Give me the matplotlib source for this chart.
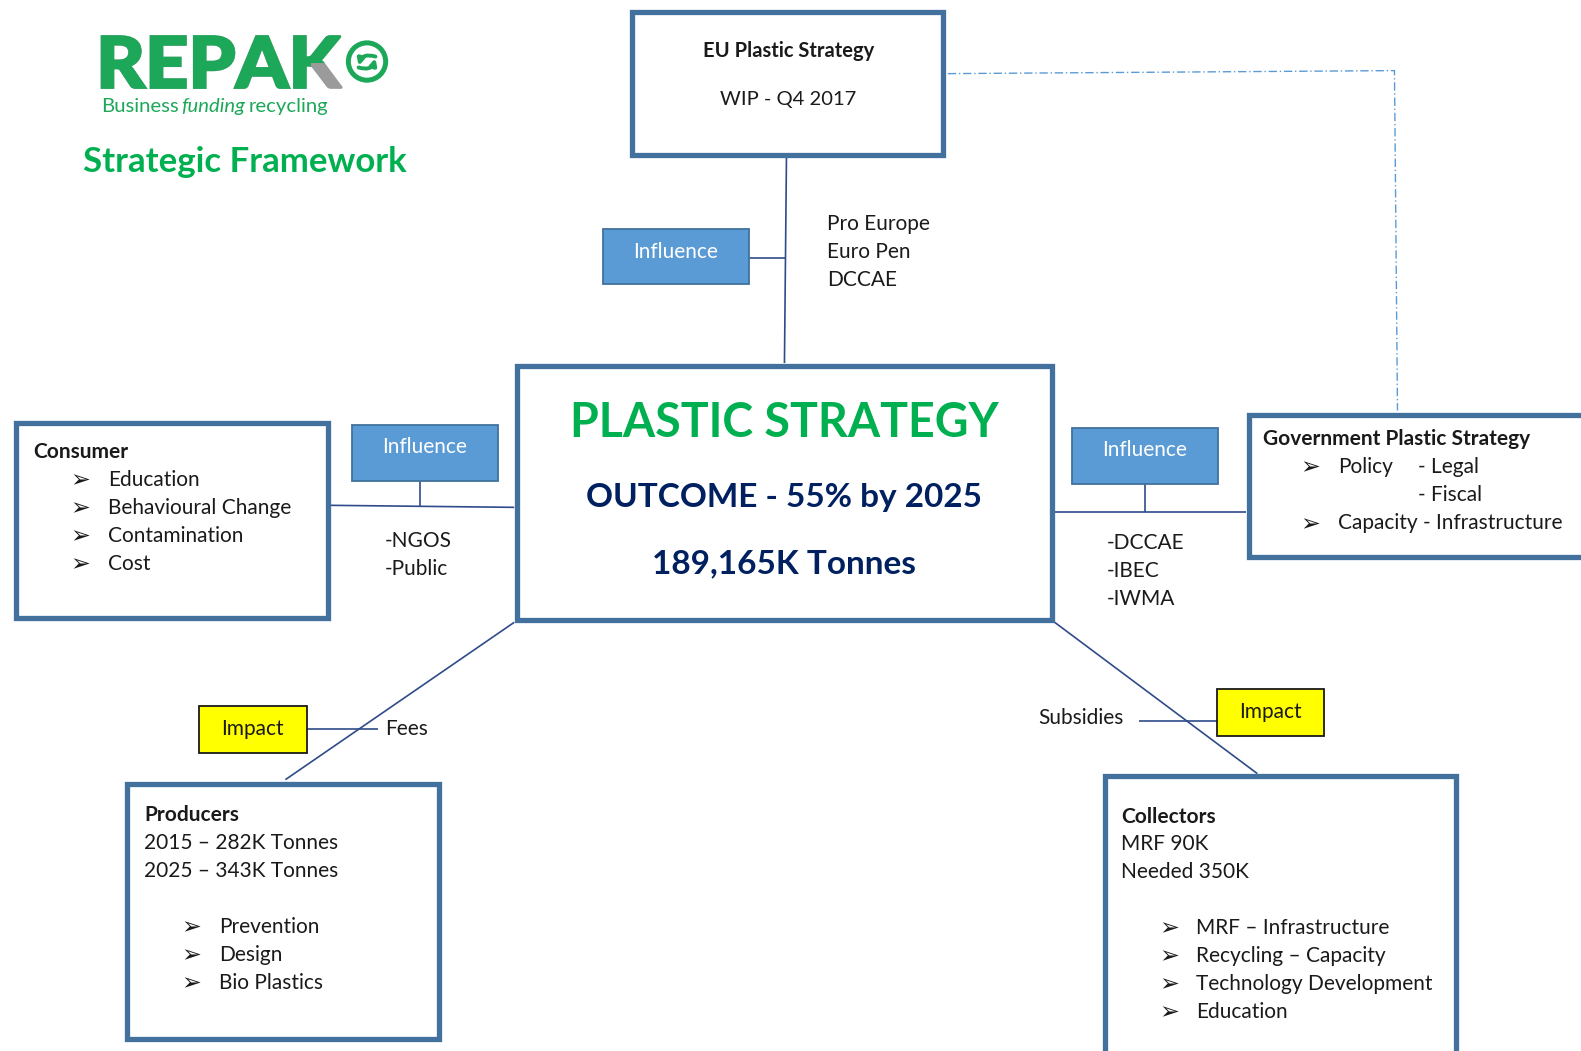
import matplotlib
matplotlib.use('Agg')
import matplotlib.pyplot as plt
from matplotlib.patches import Rectangle, Circle, FancyArrowPatch, Polygon, PathPatch
from matplotlib.textpath import TextPath
from matplotlib.font_manager import FontProperties
from matplotlib.transforms import Affine2D

FONT = ['Lato', 'DejaVu Sans']
BORDER = '#41719C'
LINK = '#2F4B8A'
GREEN = '#00B050'
LOGO_GREEN = '#1DA859'
LOGO_GREY = '#9B9B9B'
NAVY = '#002060'
INFL_FILL = '#5B9BD5'
IMPACT_FILL = '#FFFF00'
ARROW = '\u27a2'

# diagram texts
logo_word = 'REPAK'
logo_tag = [('Business', 'normal'), ('funding', 'italic'), ('recycling', 'normal')]
framework_title = 'Strategic Framework'
eu_lines = ['EU Plastic Strategy', 'WIP - Q4 2017']
eu_members = ['Pro Europe', 'Euro Pen', 'DCCAE']
center_lines = ['PLASTIC STRATEGY', 'OUTCOME - 55% by 2025', '189,165K Tonnes']
consumer_title = 'Consumer'
consumer_items = ['Education', 'Behavioural Change', 'Contamination', 'Cost']
consumer_links = ['-NGOS', '-Public']
gov_title = 'Government Plastic Strategy'
gov_rows = [(True, 'Policy', '- Legal'), (False, '', '- Fiscal'), (True, 'Capacity - Infrastructure', '')]
gov_links = ['-DCCAE', '-IBEC', '-IWMA']
producer_title = 'Producers'
producer_facts = ['2015 \u2013 282K Tonnes', '2025 \u2013 343K Tonnes']
producer_items = ['Prevention', 'Design', 'Bio Plastics']
producer_link = 'Fees'
collector_title = 'Collectors'
collector_facts = ['MRF 90K', 'Needed 350K']
collector_items = ['MRF \u2013 Infrastructure', 'Recycling \u2013 Capacity',
                   'Technology Development', 'Education']
collector_link = 'Subsidies'
influence_label = 'Influence'
impact_label = 'Impact'

W, H = 1568, 1042
fig = plt.figure(figsize=(15.81, 10.51), dpi=100)
ax = fig.add_axes([0, 0, 1, 1])
ax.set_xlim(0, W)
ax.set_ylim(H, 0)
ax.axis('off')

BODY = 15
STEP = 27.7


def box(x0, y0, x1, y1, lw=3.8, ec=BORDER, fc='white', z=2):
    ax.add_patch(Rectangle((x0, y0), x1 - x0, y1 - y0, fc=fc, ec=ec, lw=lw, zorder=z))


def line(xs, ys, color=LINK, lw=1.2, **kw):
    ax.plot(xs, ys, color=color, lw=lw, zorder=1, solid_capstyle='butt', **kw)


def txt(x, y, s, size=BODY, ha='left', color='#1a1a1a', weight='normal', **kw):
    ax.text(x, y, s, fontsize=size, ha=ha, va='center_baseline', color=color,
            weight=weight, family=FONT, zorder=5, **kw)


def label_box(x0, y0, x1, y1, s, fc, ec, tc, dy):
    box(x0, y0, x1, y1, lw=1.3, ec=ec, fc=fc, z=3)
    txt((x0 + x1) / 2, (y0 + y1) / 2 + dy, s, ha='center', color=tc)


def bullets(xa, xt, y0, items):
    for i, s in enumerate(items):
        y = y0 + i * STEP
        txt(xa, y + 1, ARROW, size=17)
        txt(xt, y, s)


# ---- logo: word as a path so it can be fitted and partly recoloured ----
logo_font = FontProperties(family='Lato', weight='black')
word_path = TextPath((0, 0), logo_word, size=1, prop=logo_font)
head_path = TextPath((0, 0), logo_word[:-1], size=1, prop=logo_font)
ext = word_path.get_extents()
left, right, top, bottom = 101, 339, 36, 87
sx = (right - left) / ext.width
sy = (bottom - top) / ext.height
fit = Affine2D().translate(-ext.x0, -ext.y0).scale(sx, -sy).translate(left, bottom) + ax.transData
ax.add_patch(PathPatch(word_path, fc=LOGO_GREY, ec=LOGO_GREY, lw=1.6, transform=fit, zorder=5))
green = PathPatch(word_path, fc=LOGO_GREEN, ec=LOGO_GREEN, lw=1.6, transform=fit, zorder=6)
ax.add_patch(green)
xk = left + (head_path.get_extents().x1 - ext.x0) * sx
xcut = xk + 0.42 * (right - xk)
ymid = (top + bottom) / 2 + 1
clip = Polygon([(left - 5, top - 5), (right + 5, top - 5), (right + 5, ymid), (xcut, ymid),
                (xcut, bottom + 5), (left - 5, bottom + 5)], closed=True, transform=ax.transData)
green.set_clip_path(clip)

ax.add_patch(Circle((364, 61), 18.5, fc='white', ec=LOGO_GREEN, lw=3.6, zorder=5))
ax.add_patch(FancyArrowPatch((353, 66), (373, 55), connectionstyle='arc3,rad=0.6',
                             arrowstyle='-|>', mutation_scale=9, lw=2.8, color=LOGO_GREEN, zorder=6))
ax.add_patch(FancyArrowPatch((375, 57), (355, 68), connectionstyle='arc3,rad=0.6',
                             arrowstyle='-|>', mutation_scale=9, lw=2.8, color=LOGO_GREEN, zorder=6))

renderer = fig.canvas.get_renderer()
inv = ax.transData.inverted()
x = 100
for s, style in logo_tag:
    t = ax.text(x, 104, s, fontsize=14.6, style=style, color=LOGO_GREEN, family=FONT,
                va='center_baseline', ha='left', zorder=5)
    bb = t.get_window_extent(renderer=renderer)
    x = inv.transform((bb.x1, bb.y0))[0] + 3

txt(82, 158, framework_title, size=25, color=GREEN, weight='bold')

# ---- connectors ----
line([780, 778], [156, 360])
line([743, 780], [256, 256])
line([940, 1383, 1386], [73, 70, 407], color=INFL_FILL, lw=1.0, linestyle=(0, (6, 2, 1, 2)))
line([328, 510], [501, 503])
line([417, 417], [477, 503])
line([1046, 1236], [508, 508])
line([1136, 1136], [480, 508])
line([510, 283], [617, 773])
line([304, 375], [723, 723])
line([1046, 1247], [617, 767])
line([1130, 1207], [715, 715])

# ---- EU box ----
box(626.5, 11.5, 935.5, 153.5)
txt(782, 49, eu_lines[0], size=14.5, ha='center', weight='bold')
txt(782, 97, eu_lines[1], size=14.5, ha='center')
label_box(598, 227, 743, 282, influence_label, INFL_FILL, BORDER, 'white', -7)
for i, s in enumerate(eu_members):
    txt(820, 220 + i * 28, s)

# ---- central box ----
box(512.5, 362.5, 1043.5, 614.5)
txt(778, 415, center_lines[0], size=33.5, ha='center', color=GREEN, weight='bold')
txt(778, 491, center_lines[1], size=24, ha='center', color=NAVY, weight='bold')
txt(778, 557, center_lines[2], size=24, ha='center', color=NAVY, weight='bold')

# ---- consumer ----
box(15.5, 419.5, 325.5, 612.5)
txt(33, 446, consumer_title, weight='bold')
bullets(70, 107, 474, consumer_items)
label_box(349, 421, 494, 477, influence_label, INFL_FILL, BORDER, 'white', -8)
for i, s in enumerate(consumer_links):
    txt(382, 534 + i * 28, s)

# ---- government ----
box(1238.5, 411.5, 1600, 552.5)
txt(1253, 433, gov_title, weight='bold')
for i, (arrow, a, b) in enumerate(gov_rows):
    y = 461 + i * 28
    if arrow:
        txt(1290, y + 1, ARROW, size=17)
    if a:
        txt(1327, y, a)
    if b:
        txt(1406, y, b)
label_box(1063, 424, 1208, 480, influence_label, INFL_FILL, BORDER, 'white', -8)
for i, s in enumerate(gov_links):
    txt(1098, 536 + i * 28, s)

# ---- producers ----
box(125.5, 777.5, 435.5, 1030.5)
txt(143, 806, producer_title, weight='bold')
for i, s in enumerate(producer_facts):
    txt(143, 834 + i * 28, s)
bullets(180, 217, 917, producer_items)
label_box(197, 700, 304, 747, impact_label, IMPACT_FILL, '#1a1a1a', '#1a1a1a', -2.5)
txt(382, 721, producer_link)

# ---- collectors ----
box(1095.5, 769.5, 1444.5, 1060)
txt(1112, 808, collector_title, weight='bold')
for i, s in enumerate(collector_facts):
    txt(1112, 835 + i * 28, s)
bullets(1150, 1186, 918, collector_items)
label_box(1207, 683, 1313, 730, impact_label, IMPACT_FILL, '#1a1a1a', '#1a1a1a', -2.5)
txt(1030, 710, collector_link)

fig.savefig('out.png', dpi=100, facecolor='white')
